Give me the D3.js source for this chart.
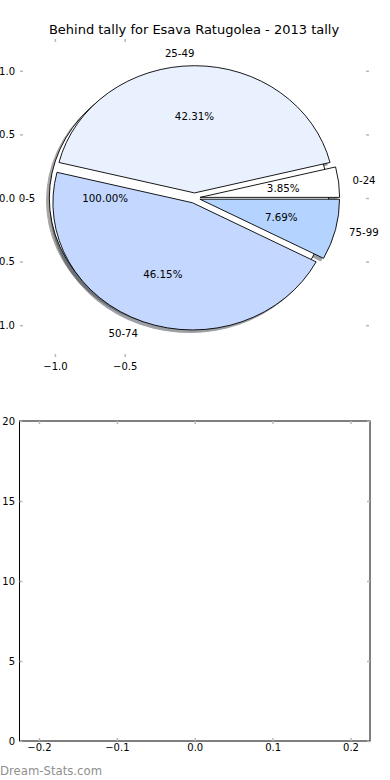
<!DOCTYPE html>
<html>
<head>
<meta charset="utf-8">
<script src="https://cdn.jsdelivr.net/npm/d3@7"></script>
<style>
  body { margin: 0; background: #fff; }
  text { font-family: "DejaVu Sans", sans-serif; }
</style>
</head>
<body>
<svg width="390" height="780"></svg>
<script>
const svg = d3.select("svg");

// DATA
const title = "Behind tally for Esava Ratugolea - 2013 tally";
const backLabels = ["0-5"];
const backValues = [1];
const backColors = ["#ffffff"];
const categories = ["0-24", "25-49", "50-74", "75-99"];
const counts = [1, 11, 12, 2];
const sliceColors = ["#ffffff", "#e9f1ff", "#c4d8ff", "#b4d4ff"];
const pieXTicks = [-1.0, -0.5];
const pieYTicks = [1.0, 0.5, 0.0, -0.5, -1.0];
const barXTicks = [-0.2, -0.1, 0.0, 0.1, 0.2];
const barYTicks = [0, 5, 10, 15, 20];
const watermark = "Dream-Stats.com";

// CONSTANTS
const explode = 0.04;
const labelDistance = 1.1;
const pctDistance = 0.6;
const shadowOffset = -0.02;
const tickColor = "#b8b8b8";

// SCALES (pie axes, matplotlib classic limits)
const px = d3.scaleLinear().domain([-1.25, 1.25]).range([20, 369]);
const py = d3.scaleLinear().domain([-1.25, 1.25]).range([357, 39]);
const rx = px(1) - px(0);
const ry = py(0) - py(1);

const pie = d3.pie().sort(null).value(d => d.value).startAngle(0).endAngle(2 * Math.PI);

function wedgePath(cx, cy, a0, a1) {
  const full = a1 - a0 >= 2 * Math.PI - 1e-9;
  if (full) {
    return `M${px(cx + 1)},${py(cy)}` +
      `A${rx},${ry} 0 1 0 ${px(cx - 1)},${py(cy)}` +
      `A${rx},${ry} 0 1 0 ${px(cx + 1)},${py(cy)}Z`;
  }
  const large = a1 - a0 > Math.PI ? 1 : 0;
  return `M${px(cx)},${py(cy)}` +
    `L${px(cx + Math.cos(a0))},${py(cy + Math.sin(a0))}` +
    `A${rx},${ry} 0 ${large} 0 ${px(cx + Math.cos(a1))},${py(cy + Math.sin(a1))}Z`;
}

const backData = pie(backLabels.map((l, i) => ({ label: l, value: backValues[i], color: backColors[i] })));
const frontData = pie(categories.map((l, i) => ({ label: l, value: counts[i], color: sliceColors[i] })));
const allWedges = backData.map(d => ({ ...d, total: d3.sum(backValues) }))
  .concat(frontData.map(d => ({ ...d, total: d3.sum(counts) })));

const mid = d => (d.startAngle + d.endAngle) / 2;
const centerX = d => explode * Math.cos(mid(d));
const centerY = d => explode * Math.sin(mid(d));

function shade(c) {
  const col = d3.rgb(c);
  return d3.rgb(col.r * 0.3, col.g * 0.3, col.b * 0.3).toString();
}

// shadows first (below every wedge)
svg.append("g").selectAll("path")
  .data(allWedges)
  .join("path")
  .attr("d", d => wedgePath(centerX(d) + shadowOffset, centerY(d) + shadowOffset, d.startAngle, d.endAngle))
  .attr("fill", d => shade(d.data.color))
  .attr("stroke", d => shade(d.data.color))
  .attr("opacity", 0.5);

svg.append("g").selectAll("path")
  .data(allWedges)
  .join("path")
  .attr("d", d => wedgePath(centerX(d), centerY(d), d.startAngle, d.endAngle))
  .attr("fill", d => d.data.color)
  .attr("stroke", "#000")
  .attr("stroke-width", 0.9);

// slice labels
svg.append("g").selectAll("text")
  .data(allWedges)
  .join("text")
  .attr("font-size", 10.2)
  .attr("x", d => px(centerX(d) + labelDistance * Math.cos(mid(d))))
  .attr("y", d => py(centerY(d) + labelDistance * Math.sin(mid(d))))
  .attr("dy", "0.35em")
  .attr("text-anchor", d => Math.cos(mid(d)) > 1e-9 ? "start" : "end")
  .text(d => d.data.label);

// percentage labels
svg.append("g").selectAll("text")
  .data(allWedges)
  .join("text")
  .attr("font-size", 10.3)
  .attr("x", d => px(centerX(d) + pctDistance * Math.cos(mid(d))))
  .attr("y", d => py(centerY(d) + pctDistance * Math.sin(mid(d))))
  .attr("dy", "0.35em")
  .attr("text-anchor", "middle")
  .text(d => d3.format(".2f")(d.data.value / d.total * 100) + "%");

// title
svg.append("text")
  .attr("x", 194)
  .attr("y", 34)
  .attr("text-anchor", "middle")
  .attr("font-size", 13)
  .text(title);

function styleAxis(g) {
  g.select(".domain").remove();
  g.selectAll(".tick line").attr("stroke", tickColor).attr("stroke-width", 1.5);
  g.selectAll(".tick text").attr("font-family", "DejaVu Sans").attr("font-size", 10).attr("fill", "#000");
}

const fmt1 = d3.format(".1f");

// pie axes ticks (frame off)
svg.append("g").attr("transform", `translate(0,${py.range()[0]})`)
  .call(d3.axisBottom(px).tickValues(pieXTicks).tickSize(-3).tickPadding(6).tickFormat(fmt1))
  .call(styleAxis);
svg.append("g").attr("transform", `translate(0,${py.range()[1]})`)
  .call(d3.axisTop(px).tickValues(pieXTicks).tickSize(-3).tickFormat(""))
  .call(styleAxis);
svg.append("g").attr("transform", `translate(${px.range()[0]},0)`)
  .call(d3.axisLeft(py).tickValues(pieYTicks).tickSize(-3).tickPadding(5).tickFormat(fmt1))
  .call(styleAxis);
svg.append("g").attr("transform", `translate(${px.range()[1]},0)`)
  .call(d3.axisRight(py).tickValues(pieYTicks).tickSize(-3).tickFormat(""))
  .call(styleAxis);

// empty bottom axes
const bx = d3.scaleLinear().domain([-0.225, 0.225]).range([19.5, 370]);
const by = d3.scaleLinear().domain([0, 20]).range([741, 421]);

svg.append("rect")
  .attr("x", bx.range()[0])
  .attr("y", by.range()[1])
  .attr("width", bx.range()[1] - bx.range()[0])
  .attr("height", by.range()[0] - by.range()[1])
  .attr("fill", "none")
  .attr("stroke", "#000")
  .attr("stroke-width", 1);

svg.append("g").attr("transform", `translate(0,${by.range()[0]})`)
  .call(d3.axisBottom(bx).tickValues(barXTicks).tickSize(-3).tickPadding(3).tickFormat(fmt1))
  .call(styleAxis);
svg.append("g").attr("transform", `translate(0,${by.range()[1]})`)
  .call(d3.axisTop(bx).tickValues(barXTicks).tickSize(-3).tickFormat(""))
  .call(styleAxis);
svg.append("g").attr("transform", `translate(${bx.range()[0]},0)`)
  .call(d3.axisLeft(by).tickValues(barYTicks).tickSize(-3).tickPadding(4.5).tickFormat(d3.format("d")))
  .call(styleAxis);
svg.append("g").attr("transform", `translate(${bx.range()[1]},0)`)
  .call(d3.axisRight(by).tickValues(barYTicks).tickSize(-3).tickFormat(""))
  .call(styleAxis);

// watermark
svg.append("text")
  .attr("x", 0)
  .attr("y", 775)
  .attr("font-size", 11.7)
  .attr("fill", "#8f8f8f")
  .text(watermark);
</script>
</body>
</html>
